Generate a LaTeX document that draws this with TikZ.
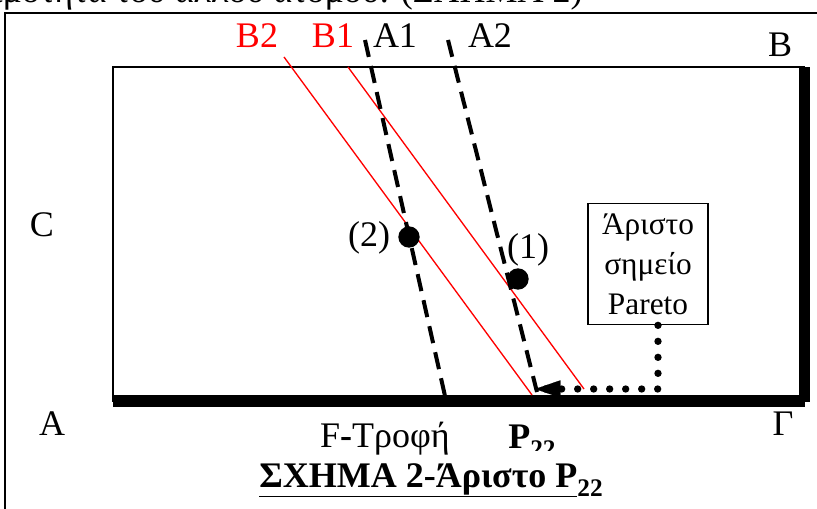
\documentclass[tikz,border=0pt]{standalone}
\usepackage{fontspec}
\setmainfont{Liberation Serif}
\usetikzlibrary{arrows.meta}
\begin{document}
\begin{tikzpicture}[x=0.75pt,y=-0.75pt,
  lbl/.style={font=\fontsize{27}{30}\selectfont, inner sep=0pt, anchor=base},
  redln/.style={red, line width=1pt},
  dashln/.style={line width=3pt, dash pattern=on 13pt off 7pt},
  dotln/.style={line width=5.5pt, line cap=round, dash pattern=on 0pt off 12pt},
  bigdot/.style={circle, fill=black, minimum size=16pt, inner sep=0pt},
  frameln/.style={line width=1.5pt}]
\useasboundingbox (0,0) rectangle (817,509);
% top cut-off text line
\node[font=\fontsize{27}{30}\selectfont, inner sep=0pt, anchor=base east] (toptext) at (583,3) {χρησιμότητα του άλλου ατόμου. (ΣΧΗΜΑ 2)};
% outer frame
\draw[frameln] (5,509) -- (5,13) -- (817,13);
% inner rectangle
\draw[frameln] (805,67) -- (113,67) -- (113,402);
\fill (799,67) rectangle (810,402);
\fill (113,395) rectangle (805,407);
% coordinates
\coordinate (b2t) at (284,57);
\coordinate (b2b) at (532,395);
\coordinate (b1t) at (348,67);
\coordinate (b1b) at (584,389);
\coordinate (a1t) at (365,40);
\coordinate (a1b) at (445,396);
\coordinate (a2t) at (448,40);
\coordinate (a2b) at (537,392);
\coordinate (corner) at (658,389);
\coordinate (tip) at (535,389);
% red lines
\draw[redln] (b2t) -- (b2b);
\draw[redln] (b1t) -- (b1b);
% dashed lines
\draw[dashln] (a1t) -- (a1b);
\draw[dashln] (a2t) -- (a2b);
% dots
\node[bigdot] (d2) at (409,237) {};
\node[bigdot] (d1) at (518,279) {};
\node[font=\fontsize{27}{30}\selectfont, inner sep=0pt] (l2) at (369,238) {(2)};
\node[font=\fontsize{27}{30}\selectfont, inner sep=0pt] (l1) at (528,250) {(1)};
% pareto box
\node[draw, line width=1pt, minimum width=90pt, minimum height=91pt, inner sep=0pt,
  align=center, font=\fontsize{23.5}{30}\selectfont] (pareto) at (648,264)
  {Άριστο\\σημείο\\Pareto};
\draw[dotln] (pareto.south -| corner) -- (corner) -- ([xshift=-16pt]corner) -- (tip);
\draw[-{Triangle[length=19pt,width=13pt]}, line width=0.1pt] ([xshift=18pt]tip) -- (tip);
% labels
\node[lbl, red] (B2) at (257,48) {B2};
\node[lbl, red] (B1) at (333,48) {B1};
\node[lbl] (A1) at (395,48) {A1};
\node[lbl] (A2) at (490,48) {A2};
\node[lbl] (B) at (780,57) {B};
\node[lbl] (C) at (42,237) {C};
\node[lbl] (A) at (52,435) {A};
\node[lbl] (G) at (783,435) {Γ};
\node[lbl] (F) at (385,447) {F\textbf{-}Τροφή};
\begin{scope}
\clip (480,400) rectangle (600,450);
\node[lbl, anchor=base west] (P22) at (508,448) {\textbf{P}\raisebox{-7pt}{\fontsize{19}{20}\selectfont\textbf{22}}};
\end{scope}
\node[lbl, anchor=base west] (title) at (259,487) {\textbf{\underline{ΣΧΗΜΑ 2-Άριστο P}}\raisebox{-7pt}{\fontsize{19}{20}\selectfont\textbf{22}}};
\end{tikzpicture}
\end{document}
